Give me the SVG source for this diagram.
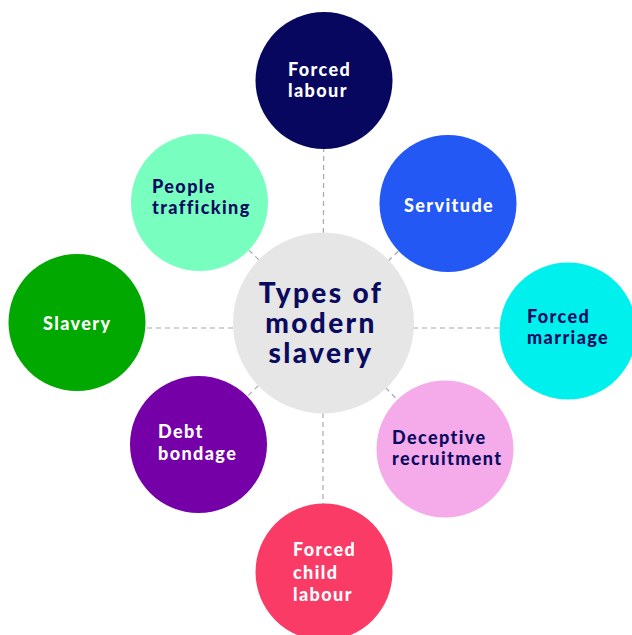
<svg xmlns="http://www.w3.org/2000/svg" width="632" height="635" viewBox="0 0 632 635">
<style>
.lbl{font-family:Lato,"Open Sans","Liberation Sans",sans-serif;font-weight:900;font-size:18px;letter-spacing:1.4px}
.w{fill:#ffffff}
.d{fill:#0a0a5e}
.c{font-family:Lato,"Open Sans","Liberation Sans",sans-serif;font-weight:900;font-size:28px;letter-spacing:2.4px;fill:#0a0a5e;text-anchor:middle}
.con{stroke:#a8a8a8;stroke-width:1.2;stroke-dasharray:5 4;fill:none}
</style>
<rect width="632" height="635" fill="#ffffff"/>
<g id="connectors">
<line class="con" x1="323" y1="323" x2="324" y2="80"/>
<line class="con" x1="323" y1="323" x2="448" y2="204"/>
<line class="con" x1="323" y1="328" x2="568" y2="328"/>
<line class="con" x1="323" y1="323" x2="445" y2="449"/>
<line class="con" x1="323" y1="323" x2="323" y2="572"/>
<line class="con" x1="323" y1="323" x2="198" y2="444"/>
<line class="con" x1="323" y1="328" x2="77" y2="328"/>
<line class="con" x1="323" y1="323" x2="200" y2="202"/>
</g>
<g id="center">
<circle cx="323.5" cy="323" r="90.5" fill="#e6e6e6"/>
<text class="c" x="321" y="303">Types of</text>
<text class="c" x="321" y="333">modern</text>
<text class="c" x="321" y="363">slavery</text>
</g>
<g id="forced-labour">
<circle cx="324" cy="80.5" r="68.5" fill="#07075f"/>
<text class="lbl w" x="288" y="76">Forced</text>
<text class="lbl w" x="288" y="97">labour</text>
</g>
<g id="servitude">
<circle cx="448" cy="203.5" r="68.5" fill="#2358f5"/>
<text class="lbl w" x="404" y="212">Servitude</text>
</g>
<g id="forced-marriage">
<circle cx="568" cy="331" r="68.5" fill="#00f0ee"/>
<text class="lbl d" x="527" y="323">Forced</text>
<text class="lbl d" x="527" y="344">marriage</text>
</g>
<g id="deceptive-recruitment">
<circle cx="445" cy="449" r="68.5" fill="#f5aaea"/>
<text class="lbl d" x="392" y="444">Deceptive</text>
<text class="lbl d" x="392" y="465">recruitment</text>
</g>
<g id="forced-child-labour">
<circle cx="324" cy="572" r="68.5" fill="#fa3b65"/>
<text class="lbl w" x="293" y="556">Forced</text>
<text class="lbl w" x="293" y="579">child</text>
<text class="lbl w" x="293" y="601">labour</text>
</g>
<g id="debt-bondage">
<circle cx="198.5" cy="444.5" r="68.5" fill="#7600a8"/>
<text class="lbl w" x="158" y="438">Debt</text>
<text class="lbl w" x="158" y="460">bondage</text>
</g>
<g id="slavery">
<circle cx="77" cy="322.5" r="68.5" fill="#00a800"/>
<text class="lbl w" x="43" y="330">Slavery</text>
</g>
<g id="people-trafficking">
<circle cx="199.5" cy="202.5" r="68.5" fill="#78ffc0"/>
<text class="lbl d" x="152" y="193">People</text>
<text class="lbl d" x="152" y="214">trafficking</text>
</g>
</svg>
